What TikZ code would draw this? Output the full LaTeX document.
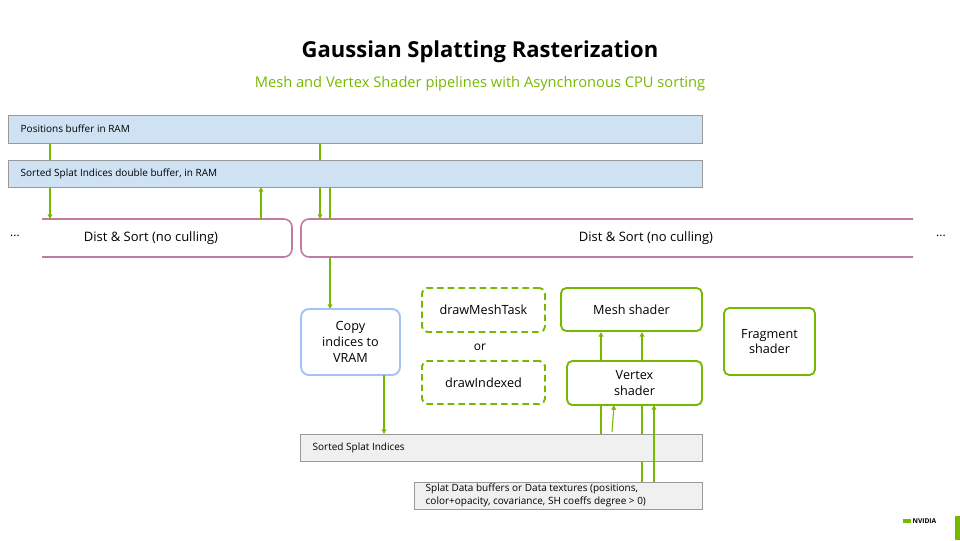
\documentclass[tikz,border=0pt]{standalone}
\usepackage{fontspec}
\setmainfont{Open Sans}
\usetikzlibrary{arrows.meta}
\definecolor{ngreen}{HTML}{76B900}
\definecolor{pinkb}{HTML}{C27BA0}
\definecolor{bluef}{HTML}{CFE2F3}
\definecolor{blueb}{HTML}{A4C2F4}
\begin{document}
\begin{tikzpicture}[x=0.75pt,y=-0.75pt,
  buf/.style={draw=gray!80,line width=0.6pt,anchor=north west,inner sep=0pt,font=\fontsize{7.5pt}{9pt}\selectfont},
  gbox/.style={draw=ngreen,line width=1.4pt,rounded corners=4pt,align=center,font=\fontsize{9.5pt}{11.5pt}\selectfont,inner sep=0pt},
  longdash/.style={dash pattern=on 5pt off 3pt},
  conn/.style={ngreen,line width=0.8pt},
  arr/.style={conn,-{Triangle[length=3.5pt,width=3.5pt]}}]
\useasboundingbox (0,0) rectangle (960,540);
\node[font=\bfseries\fontsize{16.5pt}{19pt}\selectfont] (title) at (480,52) {Gaussian Splatting Rasterization};
\node[font=\fontsize{11pt}{13pt}\selectfont,text=ngreen] (sub) at (480,84) {Mesh and Vertex Shader pipelines with Asynchronous CPU sorting};
% buffers
\node[buf,fill=bluef,minimum width=694*0.75pt,minimum height=28*0.75pt] (pos) at (8,115) {};
\node[anchor=west,font=\fontsize{7.5pt}{9pt}\selectfont] at (16,129) {Positions buffer in RAM};
\node[buf,fill=bluef,minimum width=694*0.75pt,minimum height=27*0.75pt] (sorted) at (8,160) {};
\node[anchor=west,font=\fontsize{7.5pt}{9pt}\selectfont] at (16,173.5) {Sorted Splat Indices double buffer, in RAM};
% dist & sort
\draw[pinkb,line width=1.2pt,rounded corners=6pt] (42,219) -- (292,219) -- (292,257) -- (42,257);
\node[font=\fontsize{9.75pt}{12pt}\selectfont] (ds1) at (151,238) {Dist \& Sort (no culling)};
\draw[pinkb,line width=1.2pt,rounded corners=6pt] (913,219) -- (301,219) -- (301,257) -- (913,257);
\node[font=\fontsize{9.75pt}{12pt}\selectfont] (ds2) at (646,238) {Dist \& Sort (no culling)};
\node[font=\fontsize{9pt}{10pt}\selectfont] (d1) at (15,236) {...};
\node[font=\fontsize{9pt}{10pt}\selectfont] (d2) at (941,236) {...};
% top connectors
\draw[conn] (50,143) -- (50,160);
\draw[arr] (50,187) -- (50,219);
\draw[conn] (320,143) -- (320,160);
\draw[arr] (320,187) -- (320,219);
\draw[conn] (330,187) -- (330,219);
\draw[arr] (261,219) -- (261,187);
\draw[arr] (330,257) -- (330,309);
% boxes
\node[draw=blueb,line width=1.4pt,rounded corners=6pt,minimum width=99*0.75pt,minimum height=66*0.75pt,align=center,font=\fontsize{9.5pt}{12pt}\selectfont,inner sep=0pt] (copy) at (350.5,342) {Copy\\indices to\\VRAM};
\node[gbox,longdash,minimum width=123*0.75pt,minimum height=44*0.75pt] (dmt) at (483.5,310) {drawMeshTask};
\node[font=\fontsize{9pt}{11pt}\selectfont] (or) at (480,347) {or};
\node[gbox,longdash,minimum width=123*0.75pt,minimum height=43*0.75pt] (dix) at (483.5,382.5) {drawIndexed};
\node[gbox,minimum width=141*0.75pt,minimum height=43*0.75pt] (mesh) at (631.5,309.5) {Mesh shader};
\node[gbox,minimum width=135*0.75pt,minimum height=44*0.75pt] (vert) at (634.5,383) {Vertex\\shader};
\node[gbox,minimum width=91*0.75pt,minimum height=67*0.75pt] (frag) at (769.5,341.5) {Fragment\\shader};
\node[buf,fill=gray!12,minimum width=402*0.75pt,minimum height=27*0.75pt] (ssi) at (300,434) {};
\node[anchor=west,font=\fontsize{7.5pt}{9pt}\selectfont] at (308,447.5) {Sorted Splat Indices};
\node[buf,fill=gray!12,minimum width=288*0.75pt,minimum height=27*0.75pt] (sdb) at (414,482) {};
\node[anchor=west,align=left,font=\fontsize{7.5pt}{9.5pt}\selectfont] at (421,495.5) {Splat Data buffers or Data textures (positions,\\color+opacity, covariance, SH coeffs degree > 0)};
% lower connectors
\draw[arr] (384,375) -- (384,434);
\draw[arr] (601,361) -- (601,332);
\draw[arr] (642,361) -- (642,332);
\draw[conn] (601,434) -- (601,405);
\draw[arr] (612,432) -- (614,405);
\draw[conn] (642,434) -- (642,405);
\draw[conn] (642,461) -- (642,482);
\draw[arr] (654,482) -- (654,405);
% logo
\fill[ngreen] (955,516) rectangle (960,540);
\node[font=\bfseries\fontsize{5pt}{6pt}\selectfont,anchor=east] (logo) at (941,521) {\textcolor{ngreen}{\rule{6pt}{3pt}}\,NVIDIA};
\end{tikzpicture}
\end{document}
